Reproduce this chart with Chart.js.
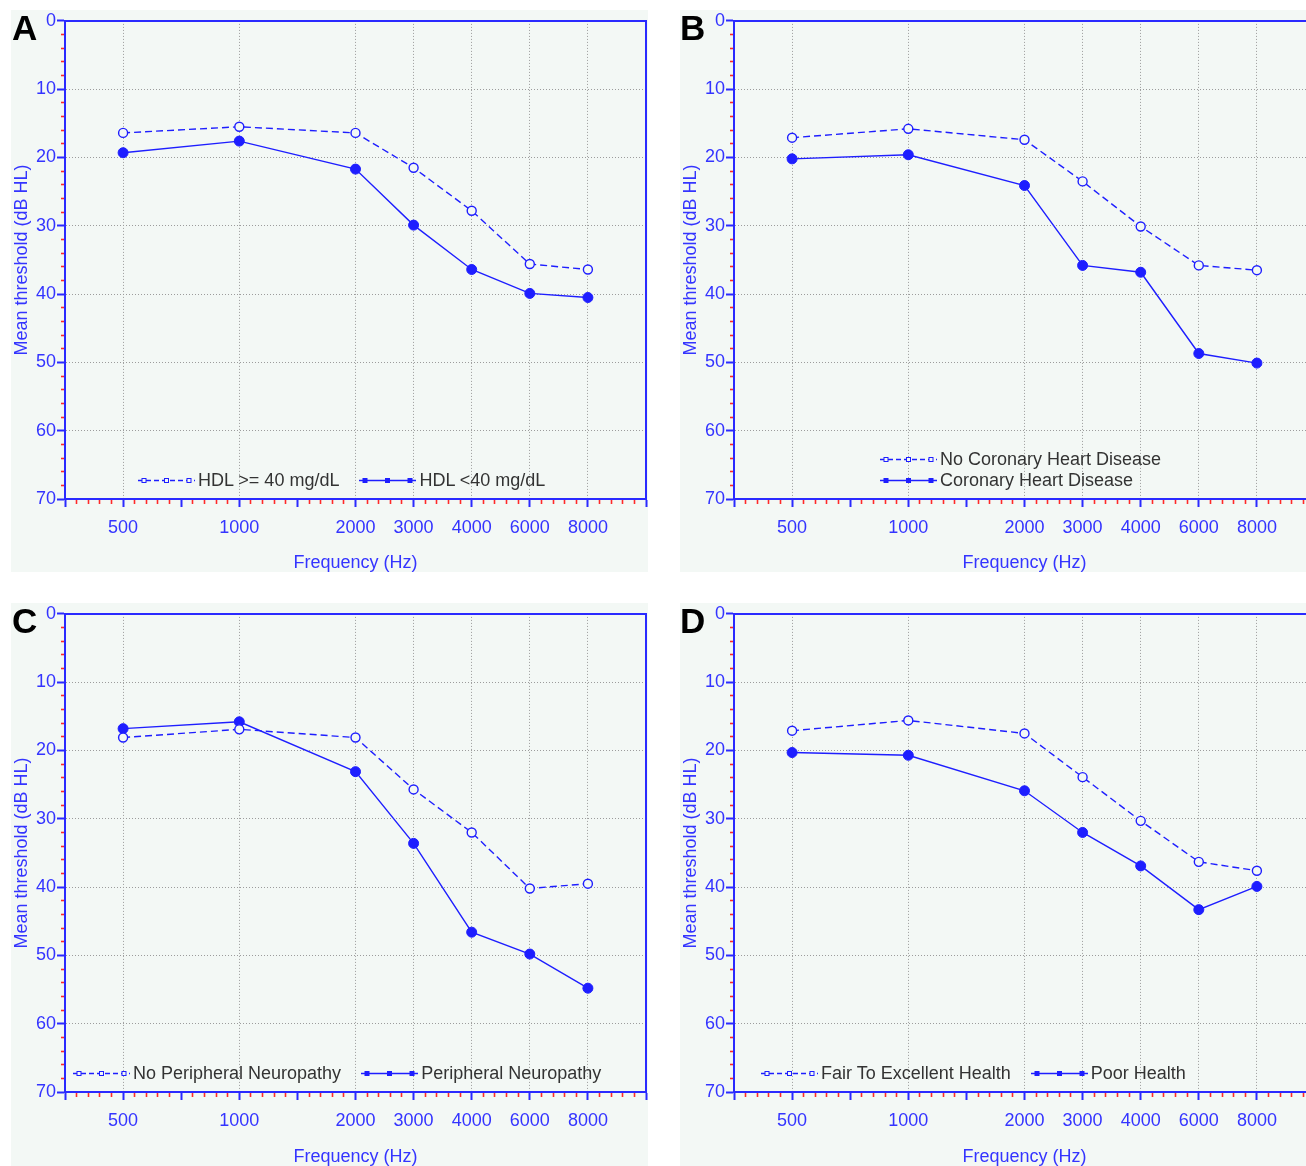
<!DOCTYPE html>
<html>
<head>
<meta charset="utf-8">
<script src="https://cdn.jsdelivr.net/npm/chart.js@4.4.1/dist/chart.umd.min.js"></script>
<style>
  html, body { margin: 0; padding: 0; background: #fff; width: 1306px; height: 1166px; overflow: hidden; }
  .panel { position: absolute; background: #f3f8f5; overflow: hidden; }
  .panel > canvas { position: absolute; left: 0; top: 0; }
  .letter { position: absolute; font: bold 35px 'Liberation Sans', Arial, sans-serif; color: #000; line-height: 35px; }
  .legend { position: absolute; font: 18px 'Liberation Sans', Arial, sans-serif; color: #333; white-space: nowrap; }
  .legend .row { display: flex; align-items: center; height: 21px; }
  .legend .item { display: flex; align-items: center; margin-right: 20px; }
  .legend .item canvas { margin-right: 3px; }
</style>
</head>
<body>
<div class="panel" id="pA" style="left:11px;top:10px;width:637px;height:562px"><canvas id="cA" width="645" height="562"></canvas></div>
<div class="panel" id="pB" style="left:680px;top:10px;width:626px;height:562px"><canvas id="cB" width="645" height="562"></canvas></div>
<div class="panel" id="pC" style="left:11px;top:603px;width:637px;height:563px"><canvas id="cC" width="645" height="563"></canvas></div>
<div class="panel" id="pD" style="left:680px;top:603px;width:626px;height:563px"><canvas id="cD" width="645" height="563"></canvas></div>
<div class="letter" style="left:12px;top:10px">A</div>
<div class="letter" style="left:680px;top:10px">B</div>
<div class="letter" style="left:12px;top:603px">C</div>
<div class="letter" style="left:680px;top:603px">D</div>
<script>
// ---- data ----
const frequencies = [500, 1000, 2000, 3000, 4000, 6000, 8000];
const yMin = 0;
const yMax = 70;
const yMajorStep = 10;
const yMinorStep = 2;

// A: HDL cholesterol
const hdlLabels = ['HDL >= 40 mg/dL', 'HDL <40 mg/dL'];
const hdlNormal = [16.4, 15.5, 16.4, 21.5, 27.8, 35.6, 36.4];
const hdlLow = [19.3, 17.6, 21.7, 29.9, 36.4, 39.9, 40.5];

// B: coronary heart disease
const chdLabels = ['No Coronary Heart Disease', 'Coronary Heart Disease'];
const noChd = [17.1, 15.8, 17.4, 23.5, 30.1, 35.8, 36.5];
const chd = [20.2, 19.6, 24.1, 35.8, 36.8, 48.7, 50.1];

// C: peripheral neuropathy
const neuroLabels = ['No Peripheral Neuropathy', 'Peripheral Neuropathy'];
const noNeuropathy = [18.1, 16.9, 18.1, 25.7, 32.0, 40.2, 39.5];
const neuropathy = [16.8, 15.8, 23.1, 33.6, 46.6, 49.8, 54.8];

// D: self-rated health
const healthLabels = ['Fair To Excellent Health', 'Poor Health'];
const goodHealth = [17.1, 15.6, 17.5, 23.9, 30.3, 36.3, 37.6];
const poorHealth = [20.3, 20.7, 25.9, 32.0, 36.9, 43.3, 39.9];

// ---- styling ----
const lineBlue = '#1e1eff';
const axisBlue = '#2a2aff';
const textBlue = '#3434ff';
const minorRed = '#ff2a2a';
const gridGray = '#9c9c9c';
const panelBg = '#f3f8f5';
const fontFamily = "'Liberation Sans', Arial, sans-serif";
const plotTop = 10;
const plotHeight = 479;

// audiogram axis: octaves from 500 Hz, half-octaves in between
const octaveSlot = f => Math.round(2 * Math.log2(f / 500)) / 2;
const freqAt = v => frequencies.find(f => Math.abs(octaveSlot(f) - v) < 1e-6);
const isHalf = v => Math.abs(v * 2 - Math.round(v * 2)) < 1e-6;

function toPoints(values) {
  return values.map((y, i) => ({ x: octaveSlot(frequencies[i]), y: y }));
}

function makeDatasets(labels, dashedVals, solidVals) {
  return [
    {
      label: labels[0],
      data: toPoints(dashedVals),
      borderColor: lineBlue,
      borderWidth: 1.4,
      borderDash: [7, 4],
      pointRadius: 4.5,
      pointBorderWidth: 1.4,
      pointBorderColor: lineBlue,
      pointBackgroundColor: panelBg,
      tension: 0
    },
    {
      label: labels[1],
      data: toPoints(solidVals),
      borderColor: lineBlue,
      borderWidth: 1.4,
      borderDash: [],
      pointRadius: 5,
      pointBorderWidth: 1,
      pointBorderColor: lineBlue,
      pointBackgroundColor: lineBlue,
      tension: 0
    }
  ];
}

// top and right frame of the plot
const frameBorder = {
  id: 'frameBorder',
  afterDraw(chart) {
    const { ctx, chartArea: a } = chart;
    ctx.save();
    ctx.strokeStyle = axisBlue;
    ctx.lineWidth = 2;
    ctx.beginPath();
    ctx.moveTo(a.left, a.top);
    ctx.lineTo(a.right, a.top);
    ctx.lineTo(a.right, a.bottom);
    ctx.stroke();
    ctx.restore();
  }
};

function makeChart(canvasId, datasets) {
  const canvas = document.getElementById(canvasId);
  return new Chart(canvas, {
    type: 'line',
    data: { datasets: datasets },
    plugins: [frameBorder],
    options: {
      responsive: false,
      animation: false,
      devicePixelRatio: 1,
      layout: { padding: { top: plotTop, right: 0, left: 0, bottom: 0 } },
      plugins: { legend: { display: false }, tooltip: { enabled: false } },
      scales: {
        x: {
          type: 'linear',
          min: -0.5,
          max: 4.5,
          afterBuildTicks(scale) {
            const t = [];
            for (let i = -5; i <= 45; i++) t.push({ value: i / 10 });
            scale.ticks = t;
          },
          afterFit(scale) { scale.height = scale.chart.height - plotTop - plotHeight; },
          ticks: {
            autoSkip: false,
            maxRotation: 0,
            minRotation: 0,
            padding: 10,
            color: textBlue,
            font: { family: fontFamily, size: 18 },
            callback: v => { const f = freqAt(v); return f ? String(f) : ''; }
          },
          grid: {
            drawOnChartArea: true,
            lineWidth: 1,
            color: c => (c.tick && freqAt(c.tick.value)) ? gridGray : 'transparent',
            tickLength: 8,
            tickColor: c => (c.tick && isHalf(c.tick.value)) ? axisBlue : minorRed,
            tickWidth: c => (c.tick && isHalf(c.tick.value)) ? 2 : 1.6,
            tickBorderDash: c => (c.tick && isHalf(c.tick.value)) ? [] : [4, 20],
            borderDash: [1, 2]
          },
          border: { color: axisBlue, width: 2, dash: [1, 2] },
          title: {
            display: true,
            text: 'Frequency (Hz)',
            color: textBlue,
            font: { family: fontFamily, size: 18 },
            padding: { top: 0, bottom: -2 }
          }
        },
        y: {
          type: 'linear',
          min: yMin,
          max: yMax,
          reverse: true,
          afterBuildTicks(scale) {
            const t = [];
            for (let v = yMin; v <= yMax; v += yMinorStep) t.push({ value: v });
            scale.ticks = t;
          },
          afterFit(scale) { scale.width = 54; },
          ticks: {
            autoSkip: false,
            padding: 1,
            color: textBlue,
            font: { family: fontFamily, size: 18, lineHeight: 1.1 },
            callback: v => (v % yMajorStep === 0) ? String(v) : ''
          },
          grid: {
            drawOnChartArea: true,
            lineWidth: 1,
            color: c => {
              const v = c.tick ? c.tick.value : yMin;
              return (v % yMajorStep === 0 && v !== yMin && v !== yMax) ? gridGray : 'transparent';
            },
            tickLength: 8,
            tickColor: c => (c.tick && c.tick.value % yMajorStep === 0) ? axisBlue : minorRed,
            tickWidth: c => (c.tick && c.tick.value % yMajorStep === 0) ? 2 : 1.6,
            tickBorderDash: c => (c.tick && c.tick.value % yMajorStep === 0) ? [] : [4, 4],
            tickBorderDashOffset: c => (c.tick && c.tick.value % yMajorStep === 0) ? 0 : 4,
            borderDash: [1, 2]
          },
          border: { color: axisBlue, width: 2, dash: [1, 2] },
          title: {
            display: true,
            text: 'Mean threshold (dB HL)',
            color: textBlue,
            font: { family: fontFamily, size: 18 },
            padding: { top: 0, bottom: 0 }
          }
        }
      }
    }
  });
}

// legend drawn in html, samples taken from the dataset styles
function drawSwatch(ds) {
  const c = document.createElement('canvas');
  c.width = 57;
  c.height = 11;
  const g = c.getContext('2d');
  g.strokeStyle = ds.borderColor;
  g.lineWidth = 1.4;
  g.setLineDash(ds.borderDash.length ? [5, 3] : []);
  g.beginPath();
  g.moveTo(0, 5.5);
  g.lineTo(57, 5.5);
  g.stroke();
  g.setLineDash([]);
  [6, 28.5, 51].forEach(x => {
    g.fillStyle = ds.pointBackgroundColor;
    g.fillRect(x - 2, 3.5, 4, 4);
    g.strokeStyle = ds.pointBorderColor;
    g.lineWidth = 1;
    g.strokeRect(x - 2, 3.5, 4, 4);
  });
  return c;
}

function buildLegend(chart, panelId, left, top, rows) {
  const box = document.createElement('div');
  box.className = 'legend';
  box.style.left = left + 'px';
  box.style.top = top + 'px';
  rows.forEach(idxs => {
    const row = document.createElement('div');
    row.className = 'row';
    idxs.forEach(i => {
      const ds = chart.data.datasets[i];
      const item = document.createElement('div');
      item.className = 'item';
      item.appendChild(drawSwatch(ds));
      const span = document.createElement('span');
      span.textContent = ds.label;
      item.appendChild(span);
      row.appendChild(item);
    });
    box.appendChild(row);
  });
  document.getElementById(panelId).appendChild(box);
}

const chartA = makeChart('cA', makeDatasets(hdlLabels, hdlNormal, hdlLow));
const chartB = makeChart('cB', makeDatasets(chdLabels, noChd, chd));
const chartC = makeChart('cC', makeDatasets(neuroLabels, noNeuropathy, neuropathy));
const chartD = makeChart('cD', makeDatasets(healthLabels, goodHealth, poorHealth));

buildLegend(chartA, 'pA', 127, 460, [[0, 1]]);
buildLegend(chartB, 'pB', 200, 439, [[0], [1]]);
buildLegend(chartC, 'pC', 62, 460, [[0, 1]]);
buildLegend(chartD, 'pD', 81, 460, [[0, 1]]);
</script>
</body>
</html>
